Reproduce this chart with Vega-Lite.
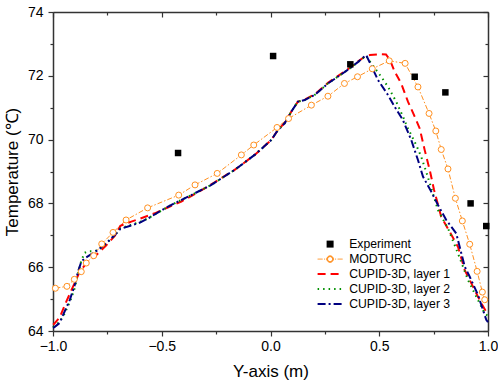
{
  "$schema": "https://vega.github.io/schema/vega-lite/v6.json",
  "width": 435,
  "height": 319,
  "padding": {"top": 5, "left": 3, "right": 5, "bottom": 5},
  "background": "white",
  "config": {
    "view": {"stroke": null},
    "font": "Liberation Sans",
    "axis": {"grid": false, "labelFont": "Liberation Sans", "titleFont": "Liberation Sans", "labelColor": "black", "titleColor": "black", "domainColor": "#333333", "tickColor": "#333333", "domainWidth": 1.5, "tickWidth": 1.2, "labelFlush": false, "titleFontWeight": "normal"}
  },
  "datasets": {
    "exp": [
      {"series": "Experiment", "x": -0.425, "y": 69.58},
      {"series": "Experiment", "x": 0.012, "y": 72.62},
      {"series": "Experiment", "x": 0.367, "y": 72.36},
      {"series": "Experiment", "x": 0.663, "y": 71.97},
      {"series": "Experiment", "x": 0.804, "y": 71.48},
      {"series": "Experiment", "x": 0.92, "y": 68.0},
      {"series": "Experiment", "x": 0.992, "y": 67.29}
    ],
    "mod": [
      {"series": "MODTURC", "x": -0.989, "y": 65.34},
      {"series": "MODTURC", "x": -0.936, "y": 65.4},
      {"series": "MODTURC", "x": -0.902, "y": 65.62},
      {"series": "MODTURC", "x": -0.87, "y": 65.86},
      {"series": "MODTURC", "x": -0.847, "y": 66.13},
      {"series": "MODTURC", "x": -0.813, "y": 66.36},
      {"series": "MODTURC", "x": -0.776, "y": 66.73},
      {"series": "MODTURC", "x": -0.724, "y": 67.09},
      {"series": "MODTURC", "x": -0.664, "y": 67.48},
      {"series": "MODTURC", "x": -0.565, "y": 67.86},
      {"series": "MODTURC", "x": -0.422, "y": 68.26},
      {"series": "MODTURC", "x": -0.347, "y": 68.58},
      {"series": "MODTURC", "x": -0.245, "y": 68.94},
      {"series": "MODTURC", "x": -0.134, "y": 69.52},
      {"series": "MODTURC", "x": -0.077, "y": 69.83},
      {"series": "MODTURC", "x": 0.03, "y": 70.38},
      {"series": "MODTURC", "x": 0.083, "y": 70.66},
      {"series": "MODTURC", "x": 0.188, "y": 71.08},
      {"series": "MODTURC", "x": 0.264, "y": 71.36},
      {"series": "MODTURC", "x": 0.34, "y": 71.76},
      {"series": "MODTURC", "x": 0.4, "y": 71.97},
      {"series": "MODTURC", "x": 0.468, "y": 72.22},
      {"series": "MODTURC", "x": 0.546, "y": 72.47},
      {"series": "MODTURC", "x": 0.619, "y": 72.39},
      {"series": "MODTURC", "x": 0.678, "y": 71.65},
      {"series": "MODTURC", "x": 0.729, "y": 70.82},
      {"series": "MODTURC", "x": 0.76, "y": 70.27},
      {"series": "MODTURC", "x": 0.785, "y": 69.69},
      {"series": "MODTURC", "x": 0.816, "y": 69.08},
      {"series": "MODTURC", "x": 0.85, "y": 68.16},
      {"series": "MODTURC", "x": 0.882, "y": 67.45},
      {"series": "MODTURC", "x": 0.916, "y": 66.72},
      {"series": "MODTURC", "x": 0.95, "y": 65.87},
      {"series": "MODTURC", "x": 0.974, "y": 65.22},
      {"series": "MODTURC", "x": 0.985, "y": 64.98}
    ],
    "cupid": [
      {"series": "CUPID-3D, layer 1", "x": -1.0, "y": 64.2},
      {"series": "CUPID-3D, layer 1", "x": -0.995, "y": 64.22},
      {"series": "CUPID-3D, layer 1", "x": -0.969, "y": 64.43},
      {"series": "CUPID-3D, layer 1", "x": -0.939, "y": 64.92},
      {"series": "CUPID-3D, layer 1", "x": -0.908, "y": 65.39},
      {"series": "CUPID-3D, layer 1", "x": -0.877, "y": 65.86},
      {"series": "CUPID-3D, layer 1", "x": -0.847, "y": 66.12},
      {"series": "CUPID-3D, layer 1", "x": -0.801, "y": 66.38},
      {"series": "CUPID-3D, layer 1", "x": -0.755, "y": 66.69},
      {"series": "CUPID-3D, layer 1", "x": -0.716, "y": 66.98},
      {"series": "CUPID-3D, layer 1", "x": -0.69, "y": 67.3},
      {"series": "CUPID-3D, layer 1", "x": -0.64, "y": 67.43},
      {"series": "CUPID-3D, layer 1", "x": -0.6, "y": 67.52},
      {"series": "CUPID-3D, layer 1", "x": -0.532, "y": 67.69},
      {"series": "CUPID-3D, layer 1", "x": -0.47, "y": 67.88},
      {"series": "CUPID-3D, layer 1", "x": -0.41, "y": 68.06},
      {"series": "CUPID-3D, layer 1", "x": -0.333, "y": 68.35},
      {"series": "CUPID-3D, layer 1", "x": -0.272, "y": 68.6},
      {"series": "CUPID-3D, layer 1", "x": -0.165, "y": 69.05},
      {"series": "CUPID-3D, layer 1", "x": -0.073, "y": 69.52},
      {"series": "CUPID-3D, layer 1", "x": 0.004, "y": 69.99},
      {"series": "CUPID-3D, layer 1", "x": 0.034, "y": 70.3},
      {"series": "CUPID-3D, layer 1", "x": 0.065, "y": 70.52},
      {"series": "CUPID-3D, layer 1", "x": 0.096, "y": 70.88},
      {"series": "CUPID-3D, layer 1", "x": 0.126, "y": 71.19},
      {"series": "CUPID-3D, layer 1", "x": 0.157, "y": 71.25},
      {"series": "CUPID-3D, layer 1", "x": 0.203, "y": 71.42},
      {"series": "CUPID-3D, layer 1", "x": 0.264, "y": 71.78},
      {"series": "CUPID-3D, layer 1", "x": 0.333, "y": 72.1},
      {"series": "CUPID-3D, layer 1", "x": 0.364, "y": 72.25},
      {"series": "CUPID-3D, layer 1", "x": 0.4, "y": 72.44},
      {"series": "CUPID-3D, layer 1", "x": 0.433, "y": 72.6},
      {"series": "CUPID-3D, layer 1", "x": 0.457, "y": 72.65},
      {"series": "CUPID-3D, layer 1", "x": 0.508, "y": 72.68},
      {"series": "CUPID-3D, layer 1", "x": 0.531, "y": 72.67},
      {"series": "CUPID-3D, layer 1", "x": 0.549, "y": 72.5},
      {"series": "CUPID-3D, layer 1", "x": 0.571, "y": 72.13},
      {"series": "CUPID-3D, layer 1", "x": 0.601, "y": 71.76},
      {"series": "CUPID-3D, layer 1", "x": 0.632, "y": 71.19},
      {"series": "CUPID-3D, layer 1", "x": 0.663, "y": 70.72},
      {"series": "CUPID-3D, layer 1", "x": 0.686, "y": 70.35},
      {"series": "CUPID-3D, layer 1", "x": 0.709, "y": 69.67},
      {"series": "CUPID-3D, layer 1", "x": 0.732, "y": 69.05},
      {"series": "CUPID-3D, layer 1", "x": 0.752, "y": 68.42},
      {"series": "CUPID-3D, layer 1", "x": 0.785, "y": 67.58},
      {"series": "CUPID-3D, layer 1", "x": 0.824, "y": 67.11},
      {"series": "CUPID-3D, layer 1", "x": 0.862, "y": 66.64},
      {"series": "CUPID-3D, layer 1", "x": 0.893, "y": 65.91},
      {"series": "CUPID-3D, layer 1", "x": 0.931, "y": 65.39},
      {"series": "CUPID-3D, layer 1", "x": 0.969, "y": 64.87},
      {"series": "CUPID-3D, layer 1", "x": 0.992, "y": 64.6},
      {"series": "CUPID-3D, layer 1", "x": 1.0, "y": 64.55},

      {"series": "CUPID-3D, layer 2", "x": -1.0, "y": 64.12},
      {"series": "CUPID-3D, layer 2", "x": -0.97, "y": 64.28},
      {"series": "CUPID-3D, layer 2", "x": -0.95, "y": 64.5},
      {"series": "CUPID-3D, layer 2", "x": -0.92, "y": 64.95},
      {"series": "CUPID-3D, layer 2", "x": -0.9, "y": 65.35},
      {"series": "CUPID-3D, layer 2", "x": -0.885, "y": 65.8},
      {"series": "CUPID-3D, layer 2", "x": -0.87, "y": 66.2},
      {"series": "CUPID-3D, layer 2", "x": -0.855, "y": 66.45},
      {"series": "CUPID-3D, layer 2", "x": -0.84, "y": 66.5},
      {"series": "CUPID-3D, layer 2", "x": -0.81, "y": 66.5},
      {"series": "CUPID-3D, layer 2", "x": -0.79, "y": 66.55},
      {"series": "CUPID-3D, layer 2", "x": -0.755, "y": 66.74},
      {"series": "CUPID-3D, layer 2", "x": -0.716, "y": 67.0},
      {"series": "CUPID-3D, layer 2", "x": -0.69, "y": 67.22},
      {"series": "CUPID-3D, layer 2", "x": -0.64, "y": 67.33},
      {"series": "CUPID-3D, layer 2", "x": -0.6, "y": 67.42},
      {"series": "CUPID-3D, layer 2", "x": -0.563, "y": 67.53},
      {"series": "CUPID-3D, layer 2", "x": -0.471, "y": 67.9},
      {"series": "CUPID-3D, layer 2", "x": -0.379, "y": 68.21},
      {"series": "CUPID-3D, layer 2", "x": -0.272, "y": 68.58},
      {"series": "CUPID-3D, layer 2", "x": -0.165, "y": 69.05},
      {"series": "CUPID-3D, layer 2", "x": -0.073, "y": 69.52},
      {"series": "CUPID-3D, layer 2", "x": 0.004, "y": 69.99},
      {"series": "CUPID-3D, layer 2", "x": 0.034, "y": 70.3},
      {"series": "CUPID-3D, layer 2", "x": 0.065, "y": 70.51},
      {"series": "CUPID-3D, layer 2", "x": 0.096, "y": 70.88},
      {"series": "CUPID-3D, layer 2", "x": 0.126, "y": 71.19},
      {"series": "CUPID-3D, layer 2", "x": 0.157, "y": 71.24},
      {"series": "CUPID-3D, layer 2", "x": 0.203, "y": 71.4},
      {"series": "CUPID-3D, layer 2", "x": 0.264, "y": 71.76},
      {"series": "CUPID-3D, layer 2", "x": 0.333, "y": 72.08},
      {"series": "CUPID-3D, layer 2", "x": 0.364, "y": 72.23},
      {"series": "CUPID-3D, layer 2", "x": 0.4, "y": 72.42},
      {"series": "CUPID-3D, layer 2", "x": 0.44, "y": 72.63},
      {"series": "CUPID-3D, layer 2", "x": 0.463, "y": 72.39},
      {"series": "CUPID-3D, layer 2", "x": 0.509, "y": 71.97},
      {"series": "CUPID-3D, layer 2", "x": 0.54, "y": 71.66},
      {"series": "CUPID-3D, layer 2", "x": 0.578, "y": 71.19},
      {"series": "CUPID-3D, layer 2", "x": 0.609, "y": 70.72},
      {"series": "CUPID-3D, layer 2", "x": 0.632, "y": 70.35},
      {"series": "CUPID-3D, layer 2", "x": 0.67, "y": 69.83},
      {"series": "CUPID-3D, layer 2", "x": 0.693, "y": 69.46},
      {"series": "CUPID-3D, layer 2", "x": 0.716, "y": 68.99},
      {"series": "CUPID-3D, layer 2", "x": 0.745, "y": 68.35},
      {"series": "CUPID-3D, layer 2", "x": 0.77, "y": 67.79},
      {"series": "CUPID-3D, layer 2", "x": 0.816, "y": 67.22},
      {"series": "CUPID-3D, layer 2", "x": 0.862, "y": 66.43},
      {"series": "CUPID-3D, layer 2", "x": 0.908, "y": 65.6},
      {"series": "CUPID-3D, layer 2", "x": 0.954, "y": 64.97},
      {"series": "CUPID-3D, layer 2", "x": 0.985, "y": 64.55},
      {"series": "CUPID-3D, layer 2", "x": 1.0, "y": 64.47},

      {"series": "CUPID-3D, layer 3", "x": -1.0, "y": 64.1},
      {"series": "CUPID-3D, layer 3", "x": -0.992, "y": 64.13},
      {"series": "CUPID-3D, layer 3", "x": -0.97, "y": 64.25},
      {"series": "CUPID-3D, layer 3", "x": -0.954, "y": 64.5},
      {"series": "CUPID-3D, layer 3", "x": -0.923, "y": 64.97},
      {"series": "CUPID-3D, layer 3", "x": -0.9, "y": 65.44},
      {"series": "CUPID-3D, layer 3", "x": -0.885, "y": 65.86},
      {"series": "CUPID-3D, layer 3", "x": -0.87, "y": 66.17},
      {"series": "CUPID-3D, layer 3", "x": -0.854, "y": 66.28},
      {"series": "CUPID-3D, layer 3", "x": -0.831, "y": 66.38},
      {"series": "CUPID-3D, layer 3", "x": -0.793, "y": 66.54},
      {"series": "CUPID-3D, layer 3", "x": -0.755, "y": 66.75},
      {"series": "CUPID-3D, layer 3", "x": -0.716, "y": 67.01},
      {"series": "CUPID-3D, layer 3", "x": -0.69, "y": 67.2},
      {"series": "CUPID-3D, layer 3", "x": -0.64, "y": 67.31},
      {"series": "CUPID-3D, layer 3", "x": -0.6, "y": 67.4},
      {"series": "CUPID-3D, layer 3", "x": -0.563, "y": 67.53},
      {"series": "CUPID-3D, layer 3", "x": -0.471, "y": 67.9},
      {"series": "CUPID-3D, layer 3", "x": -0.379, "y": 68.21},
      {"series": "CUPID-3D, layer 3", "x": -0.272, "y": 68.58},
      {"series": "CUPID-3D, layer 3", "x": -0.165, "y": 69.05},
      {"series": "CUPID-3D, layer 3", "x": -0.073, "y": 69.52},
      {"series": "CUPID-3D, layer 3", "x": 0.004, "y": 69.99},
      {"series": "CUPID-3D, layer 3", "x": 0.034, "y": 70.3},
      {"series": "CUPID-3D, layer 3", "x": 0.065, "y": 70.51},
      {"series": "CUPID-3D, layer 3", "x": 0.096, "y": 70.88},
      {"series": "CUPID-3D, layer 3", "x": 0.126, "y": 71.19},
      {"series": "CUPID-3D, layer 3", "x": 0.157, "y": 71.24},
      {"series": "CUPID-3D, layer 3", "x": 0.203, "y": 71.4},
      {"series": "CUPID-3D, layer 3", "x": 0.264, "y": 71.76},
      {"series": "CUPID-3D, layer 3", "x": 0.333, "y": 72.08},
      {"series": "CUPID-3D, layer 3", "x": 0.364, "y": 72.23},
      {"series": "CUPID-3D, layer 3", "x": 0.4, "y": 72.42},
      {"series": "CUPID-3D, layer 3", "x": 0.44, "y": 72.65},
      {"series": "CUPID-3D, layer 3", "x": 0.494, "y": 71.87},
      {"series": "CUPID-3D, layer 3", "x": 0.54, "y": 71.4},
      {"series": "CUPID-3D, layer 3", "x": 0.571, "y": 71.03},
      {"series": "CUPID-3D, layer 3", "x": 0.609, "y": 70.61},
      {"series": "CUPID-3D, layer 3", "x": 0.647, "y": 69.99},
      {"series": "CUPID-3D, layer 3", "x": 0.678, "y": 69.36},
      {"series": "CUPID-3D, layer 3", "x": 0.701, "y": 68.84},
      {"series": "CUPID-3D, layer 3", "x": 0.739, "y": 68.37},
      {"series": "CUPID-3D, layer 3", "x": 0.77, "y": 67.95},
      {"series": "CUPID-3D, layer 3", "x": 0.808, "y": 67.48},
      {"series": "CUPID-3D, layer 3", "x": 0.854, "y": 67.06},
      {"series": "CUPID-3D, layer 3", "x": 0.893, "y": 66.02},
      {"series": "CUPID-3D, layer 3", "x": 0.916, "y": 65.7},
      {"series": "CUPID-3D, layer 3", "x": 0.954, "y": 65.13},
      {"series": "CUPID-3D, layer 3", "x": 0.992, "y": 64.35},
      {"series": "CUPID-3D, layer 3", "x": 1.0, "y": 64.28}
    ]
  },
  "encoding": {
    "color": {
      "field": "series",
      "type": "nominal",
      "scale": {
        "domain": ["Experiment", "MODTURC", "CUPID-3D, layer 1", "CUPID-3D, layer 2", "CUPID-3D, layer 3"],
        "range": ["#000000", "#FF9020", "#FF0000", "#009000", "#000080"]
      },
      "legend": {
        "title": null,
        "orient": "none",
        "legendX": 271,
        "legendY": 226,
        "labelFont": "Liberation Sans",
        "labelFontSize": 12.2,
        "labelColor": "black",
        "labelOffset": 13,
        "symbolSize": 100,
        "rowPadding": 2,
        "encode": {
          "symbols": {
            "update": {
              "shape": {"signal": "datum.value === 'Experiment' ? 'M-0.7,-0.7H0.7V0.7H-0.7Z' : datum.value === 'MODTURC' ? 'M-2.5,0H-1.5M-1.2,0H-1M-0.8,0H-0.65M0.65,0H0.8M1,0H1.2M1.5,0H2.5M0.65,0A0.65,0.65,0,1,1,-0.65,0A0.65,0.65,0,1,1,0.65,0M0.5,0A0.5,0.5,0,1,0,-0.5,0A0.5,0.5,0,1,0,0.5,0' : 'M-2.5,0H2.5'"},
              "size": {"value": 100},
              "fill": {"signal": "datum.value === 'Experiment' ? 'black' : datum.value === 'MODTURC' ? '#FF9020' : 'transparent'"},
              "stroke": {"scale": "color", "field": "value"},
              "strokeWidth": {"signal": "datum.value === 'MODTURC' ? 1 : datum.value === 'Experiment' ? 0 : 2"},
              "strokeDash": {"signal": "datum.value === 'CUPID-3D, layer 1' ? [8, 5] : datum.value === 'CUPID-3D, layer 2' ? [1.5, 4] : datum.value === 'CUPID-3D, layer 3' ? [8, 3, 2, 3] : [1, 0]"},
              "opacity": {"value": 1}
            }
          }
        }
      }
    }
  },
  "layer": [
    {
      "data": {"name": "mod"},
      "mark": {"type": "line", "strokeWidth": 1, "strokeDash": [5, 2, 1.5, 2]},
      "encoding": {
        "x": {"field": "x", "type": "quantitative", "scale": {"domain": [-1, 1], "nice": false, "zero": false},
          "axis": {"orient": "bottom", "values": [-1, -0.5, 0, 0.5, 1], "format": ".1f", "title": "Y-axis (m)", "titleFontSize": 17, "labelFontSize": 14, "tickSize": 5, "labelPadding": 3, "titlePadding": 10}},
        "y": {"field": "y", "type": "quantitative", "scale": {"domain": [64, 74], "nice": false, "zero": false},
          "axis": {"orient": "left", "values": [64, 66, 68, 70, 72, 74], "title": "Temperature (℃)", "titleFontSize": 17, "labelFontSize": 14, "tickSize": 5, "labelPadding": 5, "titlePadding": 6}}
      }
    },
    {
      "data": {"name": "cupid"},
      "mark": {"type": "line", "strokeWidth": 2},
      "encoding": {
        "x": {"field": "x", "type": "quantitative", "axis": {"orient": "bottom", "values": [-0.75, -0.25, 0.25, 0.75], "labels": false, "domain": false, "title": null, "tickSize": 3}},
        "y": {"field": "y", "type": "quantitative", "axis": {"orient": "left", "values": [65, 67, 69, 71, 73], "labels": false, "domain": false, "title": null, "tickSize": 3}},
        "strokeDash": {"field": "series", "type": "nominal", "legend": null,
          "scale": {"domain": ["CUPID-3D, layer 1", "CUPID-3D, layer 2", "CUPID-3D, layer 3"], "range": [[8, 5], [1.5, 4], [8, 3, 2, 3]]}}
      }
    },
    {
      "data": {"name": "mod"},
      "mark": {"type": "point", "shape": "circle", "size": 36, "filled": false, "fill": "white", "fillOpacity": 1, "strokeWidth": 1, "opacity": 1},
      "encoding": {
        "x": {"field": "x", "type": "quantitative", "axis": {"orient": "top", "values": [-1, -0.5, 0, 0.5, 1], "labels": false, "domain": true, "title": null, "tickSize": -5}},
        "y": {"field": "y", "type": "quantitative", "axis": {"orient": "right", "values": [64, 66, 68, 70, 72, 74], "labels": false, "domain": true, "title": null, "tickSize": -5}}
      }
    },
    {
      "data": {"name": "exp"},
      "mark": {"type": "point", "shape": "square", "size": 42, "filled": true, "opacity": 1},
      "encoding": {
        "x": {"field": "x", "type": "quantitative", "axis": {"orient": "top", "values": [-0.75, -0.25, 0.25, 0.75], "labels": false, "domain": false, "title": null, "tickSize": -3}},
        "y": {"field": "y", "type": "quantitative", "axis": {"orient": "right", "values": [65, 67, 69, 71, 73], "labels": false, "domain": false, "title": null, "tickSize": -3}}
      }
    }
  ],
  "resolve": {"axis": {"x": "independent", "y": "independent"}}
}
